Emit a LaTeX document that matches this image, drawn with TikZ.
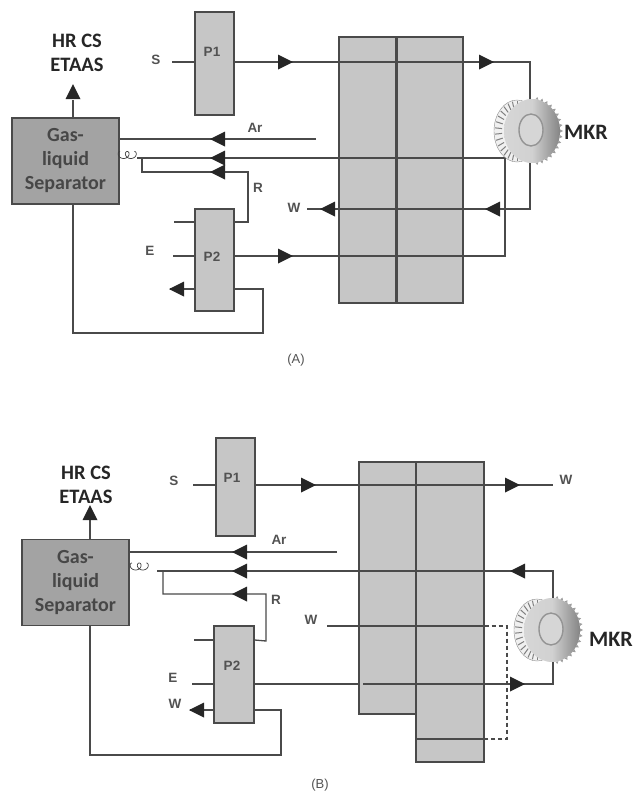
\documentclass[tikz,border=0pt]{standalone}
\usepackage{fontspec}
\setsansfont{Liberation Sans}
\newfontfamily\carlito{Carlito}
\usetikzlibrary{positioning}
\definecolor{linecol}{HTML}{4A4A4A}
\definecolor{colfill}{HTML}{C6C6C6}
\definecolor{gasfill}{HTML}{A3A3A3}
\tikzset{
  flow/.style={draw=linecol,line width=1.3pt},
  pumpbox/.style={draw=linecol,line width=1.4pt,fill=colfill,inner sep=0pt},
  colbox/.style={draw=linecol,line width=1.2pt,fill=colfill,inner sep=0pt},
  gasbox/.style={draw=linecol,line width=1.2pt,fill=gasfill,inner sep=0pt,minimum width=107pt,minimum height=86pt,
    align=center,text=black!72,font=\carlito\bfseries\fontsize{20}{24}\selectfont},
  small/.style={text=black!68,inner sep=0pt,font=\sffamily\bfseries\fontsize{13.5}{15}\selectfont},
  big/.style={text=black!85,inner sep=0pt,align=center,font=\carlito\bfseries\fontsize{20.5}{24}\selectfont},
  mkrlabel/.style={text=black!85,inner sep=0pt,font=\carlito\bfseries\fontsize{22}{24}\selectfont},
  caption/.style={text=black!68,inner sep=0pt,font=\sffamily\fontsize{13}{15}\selectfont},
  pics/headtip/.style={code={\fill[black!85] (-7,-7.5)--(8,0)--(-7,7.5)--cycle;}},
  pics/tire/.style={code={
    \fill[black!6,draw=black!45] (-15,0) ellipse (23 and 31);
    \foreach \a in {90,102,...,270} {
      \draw[black!50,line width=1pt] ({-15+15*cos(\a)},{23*sin(\a)})--({-15+22*cos(\a)},{30*sin(\a)});
    }
    \foreach \a in {-80,-70,...,80} {
      \fill[black!38] ({28*cos(\a-3)},{32*sin(\a-3)})--({31*cos(\a)},{34.5*sin(\a)})--({28*cos(\a+3)},{32*sin(\a+3)})--cycle;
    }
    \shade[left color=black!16,right color=black!48,middle color=black!18] (0,0) ellipse (28 and 32);
    \fill[black!16,draw=black!42,line width=1.4pt] (-1,-1) ellipse (12 and 16);
  }}
}
\begin{document}
\begin{tikzpicture}[x=1pt,y=-1pt]
  \useasboundingbox (0,0) rectangle (634,793);
  % panel A
  \node[colbox,minimum width=57pt,minimum height=266pt] (colLA) at (367.5,170) {};
  \node[colbox,minimum width=67pt,minimum height=266pt] (colRA) at (429.5,170) {};
  \node[gasbox] (gasA) at (65.5,161) {Gas-\\liquid\\Separator};
  \node[pumpbox,minimum width=39pt,minimum height=103pt] (p1A) at (214.5,63.5) {};
  \node[pumpbox,minimum width=39pt,minimum height=102pt] (p2A) at (214.5,260) {};
  \node[small] (p1labA) at (212,52) {P1}; \node[small] (p2labA) at (212,257) {P2};
  \node[big] (hrA) at (77,53) {HR CS\\ETAAS};
  \node[small] (sA) at (156,60) {S}; \node[small] (arA) at (255,128) {Ar}; \node[small] (rA) at (258,188) {R};
  \node[small] (wA) at (294,208) {W}; \node[small] (eA) at (150,251) {E};
  \node[mkrlabel] (mkrA) at (586,132) {MKR}; \node[caption] (capA) at (296,360) {(A)};
  \coordinate (sinA) at (172,62); \coordinate (topA) at (530,62); \coordinate (arinA) at (316,139);
  \coordinate (coilA) at (137,158); \coordinate (retA) at (505,158); \coordinate (einA) at (173,256);
  \coordinate (jA) at (505,256); \coordinate (winA) at (307,209); \coordinate (botA) at (530,209);
  \coordinate (rjA) at (142,158); \coordinate (stubA) at (174,222); \coordinate (outA) at (170,289);
  \coordinate (vertA) at (73,333);
  \draw[flow] (sinA)--(sinA -| p1A.west) (sinA -| p1A.east)--(topA)--(530,110);
  \draw[flow] (arinA)--(arinA -| gasA.east);
  \draw[flow] (coilA)--(retA)--(jA)--(jA -| p2A.east) (einA)--(einA -| p2A.west);
  \draw[flow] (winA)--(botA)--(530,150);
  \draw[flow] (rjA)--(142,172)--(248,172)--(248,222)--(stubA -| p2A.east);
  \draw[flow,line width=1.6pt] (stubA)--(stubA -| p2A.west);
  \draw[flow] (outA)--(outA -| p2A.west) (outA -| p2A.east)--(263,289)--(263,333)--(vertA)--(vertA |- gasA.south);
  \draw[flow] (vertA |- gasA.north)--(73,100);
  \draw[flow,line width=1.8pt] (colLA.north east)--(colLA.south east);
  \draw[black!75,line width=.7pt,domain=0:12.6,samples=60,smooth] plot ({120+1.15*\x-3.5*sin(\x r)},{155-3.5*cos(\x r)});
  \pic at (285,62) {headtip}; \pic at (486,62) {headtip};
  \pic[rotate=90] at (73,92) {headtip};
  \pic[rotate=180] at (218,139) {headtip}; \pic[rotate=180] at (218,158) {headtip}; \pic[rotate=180] at (218,172) {headtip};
  \pic[rotate=180] at (328,209) {headtip}; \pic[rotate=180] at (493,209) {headtip};
  \pic at (285,256) {headtip}; \pic[rotate=180] at (177,289) {headtip};
  \pic at (532,131) {tire};
  % panel B
  \node[colbox,minimum width=57pt,minimum height=252pt] (colLB) at (387.5,588) {};
  \node[colbox,minimum width=68pt,minimum height=300pt] (colRB) at (450,612) {};
  \node[gasbox] (gasB) at (75.5,582.5) {Gas-\\liquid\\Separator};
  \node[pumpbox,minimum width=39pt,minimum height=98pt] (p1B) at (235.5,487) {};
  \node[pumpbox,minimum width=40pt,minimum height=97pt] (p2B) at (234,674.5) {};
  \node[small] (p1labB) at (232,478) {P1}; \node[small] (p2labB) at (232,666) {P2};
  \node[big] (hrB) at (86,485) {HR CS\\ETAAS};
  \node[small] (sB) at (174,481) {S}; \node[small] (arB) at (279,540) {Ar}; \node[small] (rB) at (276,600) {R};
  \node[small] (wB) at (311,620) {W}; \node[small] (eB) at (173,678) {E}; \node[small] (woutB) at (175,704) {W};
  \node[small] (wtopB) at (566,480) {W};
  \node[mkrlabel] (mkrB) at (611,639) {MKR}; \node[caption] (capB) at (320,785) {(B)};
  \coordinate (sinB) at (193,485); \coordinate (endB) at (553,485); \coordinate (arinB) at (337,552);
  \coordinate (coilB) at (157,571); \coordinate (topB) at (553,571); \coordinate (rjB) at (163,571);
  \coordinate (stubB) at (194,640); \coordinate (einB) at (192,684); \coordinate (botB) at (553,684);
  \coordinate (outB) at (190,710); \coordinate (winB) at (327,626); \coordinate (dashaB) at (507,626);
  \coordinate (dashbB) at (507,739); \coordinate (vertB) at (90,755);
  \draw[flow] (sinB)--(sinB -| p1B.west) (sinB -| p1B.east)--(endB);
  \draw[flow] (arinB)--(arinB -| gasB.east);
  \draw[flow] (coilB)--(topB)--(553,605);
  \draw[flow] (rjB)--(163,594)--(266,594)--(266,641)--(stubB -| p2B.east);
  \draw[flow,line width=1.6pt] (stubB)--(stubB -| p2B.west);
  \draw[flow] (einB)--(einB -| p2B.west) (einB -| p2B.east)--(360,684) (363,684)--(botB)--(553,655);
  \draw[flow] (outB)--(outB -| p2B.west) (outB -| p2B.east)--(281,710)--(281,755)--(vertB)--(vertB |- gasB.south);
  \draw[flow] (vertB |- gasB.north)--(90,520);
  \draw[flow] (winB)--(colRB.east |- winB);
  \draw[flow,dash pattern=on 4pt off 3pt] (colRB.east |- winB)--(dashaB)--(dashbB)--(colRB.east |- dashbB);
  \draw[flow] (colRB.east |- dashbB)--(colRB.west |- dashbB);
  \draw[black!75,line width=.7pt,domain=0:12.6,samples=60,smooth] plot ({132+1.15*\x-3.5*sin(\x r)},{566.5-3.5*cos(\x r)});
  \pic at (308,485) {headtip}; \pic at (512,485) {headtip};
  \pic[rotate=90] at (90,513) {headtip};
  \pic[rotate=180] at (240,552) {headtip}; \pic[rotate=180] at (240,571) {headtip}; \pic[rotate=180] at (240,594) {headtip};
  \pic[rotate=180] at (518,571) {headtip}; \pic at (517,684) {headtip}; \pic[rotate=180] at (197,710) {headtip};
  \pic at (552,630) {tire};
\end{tikzpicture}
\end{document}
